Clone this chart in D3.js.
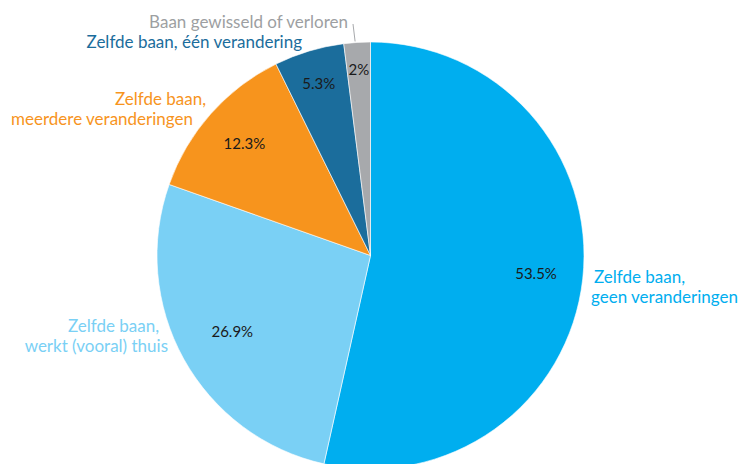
<!DOCTYPE html>
<html>
<head>
<meta charset="utf-8">
<script src="https://cdn.jsdelivr.net/npm/d3@7/dist/d3.min.js"></script>
<style>
  html, body { margin: 0; padding: 0; background: #fff; }
  svg { display: block; }
</style>
</head>
<body>
<svg id="chart" width="741" height="464"></svg>
<script>
// ---- data ----
const categories = [
  "Zelfde baan, geen veranderingen",
  "Zelfde baan, werkt (vooral) thuis",
  "Zelfde baan, meerdere veranderingen",
  "Zelfde baan, één verandering",
  "Baan gewisseld of verloren"
];
const values = [53.5, 26.9, 12.3, 5.3, 2];
const valueLabels = ["53.5%", "26.9%", "12.3%", "5.3%", "2%"];
const labelLines = [
  ["Zelfde baan,", "geen veranderingen"],
  ["Zelfde baan,", "werkt (vooral) thuis"],
  ["Zelfde baan,", "meerdere veranderingen"],
  ["Zelfde baan, één verandering"],
  ["Baan gewisseld of verloren"]
];
const colors = ["#00aeef", "#7ad0f5", "#f7941d", "#1b6d9c", "#a7a9ac"];

// ---- layout (not data) ----
const W = 741, H = 464;
const cx = 370.5, cy = 255.5, R = 213.5;
const valueRadius = [0.78, 0.74, 0.79, 0.84, 0.87];
// category label anchors: per line [x, y(baseline), anchor]
const labelPos = [
  [[594, 283, "start"], [591, 303, "start"]],
  [[159, 332, "end"], [168, 352, "end"]],
  [[206, 105, "end"], [193, 125, "end"]],
  [[302, 48, "end"]],
  [[348, 28, "end"]]
];

const svg = d3.select("#chart");
const g = svg.append("g").attr("transform", `translate(${cx},${cy})`);

const pie = d3.pie().sort(null).value(d => d)
  .startAngle(0).endAngle(2 * Math.PI);
const arcs = pie(values);
const arc = d3.arc().innerRadius(0).outerRadius(R);

g.selectAll("path.slice").data(arcs).enter().append("path")
  .attr("class", "slice")
  .attr("d", arc)
  .attr("fill", (d, i) => colors[i])
  .attr("stroke", "#fff")
  .attr("stroke-width", 0.6);

g.selectAll("text.val").data(arcs).enter().append("text")
  .attr("class", "val")
  .attr("transform", (d, i) => {
    const a = d3.arc().innerRadius(0).outerRadius(R * valueRadius[i] * 2);
    const c = a.centroid(d);
    return `translate(${c[0]},${c[1]})`;
  })
  .attr("text-anchor", "middle")
  .attr("dy", "0.35em")
  .attr("font-family", "Lato, 'Open Sans', sans-serif")
  .attr("font-size", 15)
  .attr("fill", "#1a1a1a")
  .text((d, i) => valueLabels[i]);

// leader line for the small slice
const small = arcs[4];
const outer = d3.arc().innerRadius(R).outerRadius(R).centroid(small);
svg.append("line")
  .attr("x1", cx + outer[0] - 2).attr("y1", cy + outer[1] - 1)
  .attr("x2", 353).attr("y2", 24)
  .attr("stroke", "#a7a9ac").attr("stroke-width", 1);

// category labels
labelLines.forEach((lines, i) => {
  lines.forEach((t, j) => {
    const p = labelPos[i][j];
    svg.append("text")
      .attr("x", p[0]).attr("y", p[1])
      .attr("text-anchor", p[2])
      .attr("font-family", "Lato, 'Open Sans', sans-serif")
      .attr("font-size", 17)
      .attr("fill", colors[i] === "#a7a9ac" ? "#9d9fa2" : colors[i])
      .text(t);
  });
});
</script>
</body>
</html>
